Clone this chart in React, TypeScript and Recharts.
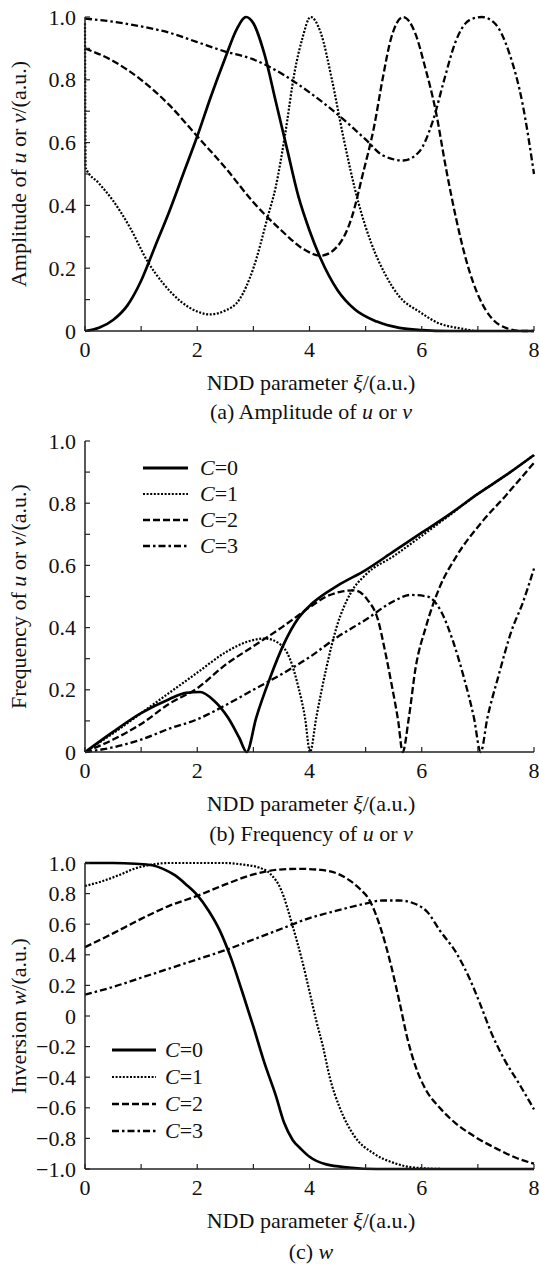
import React from 'react';
import { Legend, Line, LineChart, XAxis, YAxis } from 'recharts';

type Pt = [number, number];

const font = "'Liberation Serif', 'Times New Roman', serif";

// x axis (NDD parameter)
const xTicks = [0, 1, 2, 3, 4, 5, 6, 7, 8];
const xTickLabels = ['0', '', '2', '', '4', '', '6', '', '8'];

// y axes
const unitTicks = [0, 0.1, 0.2, 0.3, 0.4, 0.5, 0.6, 0.7, 0.8, 0.9, 1];
const unitTickLabels = ['0', '', '0.2', '', '0.4', '', '0.6', '', '0.8', '', '1.0'];
const wTicks = [-1, -0.8, -0.6, -0.4, -0.2, 0, 0.2, 0.4, 0.6, 0.8, 1];
const wTickLabels = ['\u22121.0', '\u22120.8', '\u22120.6', '\u22120.4', '\u22120.2', '0', '0.2', '0.4', '0.6', '0.8', '1.0'];

// (a) amplitude of u or v
const ampC0: Pt[] = [
  [0, 0], [0.25, 0.01], [0.5, 0.035], [0.75, 0.08], [1, 0.16], [1.25, 0.27], [1.5, 0.38], [1.75, 0.5],
  [2, 0.62], [2.25, 0.75], [2.5, 0.87], [2.7, 0.96], [2.87, 1], [3, 0.98], [3.2, 0.88], [3.4, 0.73],
  [3.6, 0.58], [3.8, 0.43], [4, 0.32], [4.2, 0.23], [4.5, 0.13], [4.8, 0.07], [5.2, 0.03], [5.6, 0.01],
  [6, 0.003], [6.5, 0], [8, 0],
];
const ampC1: Pt[] = [
  [0, 0.98], [0.01, 0.52], [0.25, 0.47], [0.5, 0.415], [0.8, 0.33], [1.12, 0.22], [1.4, 0.15], [1.7, 0.095],
  [2, 0.062], [2.22, 0.053], [2.5, 0.065], [2.75, 0.1], [3, 0.2], [3.25, 0.36], [3.4, 0.46], [3.56, 0.62],
  [3.74, 0.83], [3.87, 0.93], [4.02, 1], [4.2, 0.95], [4.4, 0.8], [4.6, 0.62], [4.87, 0.41], [5.1, 0.28],
  [5.35, 0.18], [5.6, 0.11], [5.97, 0.06], [6.3, 0.025], [6.7, 0.008], [7, 0], [8, 0],
];
const ampC2: Pt[] = [
  [0, 0.9], [0.5, 0.86], [1, 0.8], [1.5, 0.72], [2, 0.62], [2.5, 0.52], [3, 0.41], [3.5, 0.32],
  [3.9, 0.26], [4.2, 0.24], [4.5, 0.27], [4.75, 0.36], [4.95, 0.5], [5.15, 0.65], [5.3, 0.8], [5.45, 0.93],
  [5.67, 1], [5.88, 0.95], [6.06, 0.84], [6.25, 0.7], [6.43, 0.52], [6.61, 0.36], [6.8, 0.22], [7.04, 0.1],
  [7.25, 0.04], [7.5, 0.01], [7.8, 0], [8, 0],
];
const ampC3: Pt[] = [
  [0, 0.995], [0.5, 0.985], [1, 0.97], [1.5, 0.95], [2, 0.92], [2.5, 0.89], [3, 0.865], [3.5, 0.82],
  [4, 0.76], [4.5, 0.69], [5, 0.61], [5.3, 0.56], [5.67, 0.543], [5.95, 0.57], [6.2, 0.67], [6.4, 0.8],
  [6.6, 0.92], [6.85, 0.99], [7.07, 1], [7.3, 0.98], [7.55, 0.89], [7.8, 0.72], [8, 0.5],
];

// (b) frequency of u or v
const freqC0: Pt[] = [
  [0, 0], [0.5, 0.065], [1, 0.125], [1.5, 0.17], [1.8, 0.19], [2.05, 0.193], [2.3, 0.165], [2.55, 0.11],
  [2.75, 0.045], [2.88, 0], [3.05, 0.11], [3.3, 0.24], [3.55, 0.35], [3.8, 0.43], [4.05, 0.478], [4.5, 0.535],
  [5, 0.585], [5.5, 0.645], [6, 0.705], [6.5, 0.765], [7, 0.83], [7.5, 0.89], [8, 0.955],
];
const freqC1: Pt[] = [
  [0, 0], [0.5, 0.06], [1, 0.125], [1.5, 0.19], [2, 0.255], [2.5, 0.32], [2.9, 0.355], [3.2, 0.365],
  [3.45, 0.35], [3.65, 0.3], [3.8, 0.21], [3.92, 0.11], [4.01, 0], [4.12, 0.11], [4.3, 0.27], [4.48, 0.4],
  [4.73, 0.51], [5, 0.57], [5.5, 0.63], [6, 0.695], [6.5, 0.762], [7, 0.83], [7.5, 0.89], [8, 0.955],
];
const freqC2: Pt[] = [
  [0, 0], [0.5, 0.04], [1, 0.09], [1.5, 0.155], [2, 0.205], [2.5, 0.28], [3, 0.34], [3.5, 0.4],
  [4, 0.465], [4.3, 0.5], [4.55, 0.515], [4.8, 0.52], [5.03, 0.49], [5.22, 0.425], [5.34, 0.33], [5.46, 0.22],
  [5.58, 0.1], [5.66, 0], [5.77, 0.11], [5.89, 0.27], [6.07, 0.4], [6.32, 0.53], [6.62, 0.63], [7.05, 0.735],
  [7.5, 0.825], [8, 0.93],
];
const freqC3: Pt[] = [
  [0, 0], [0.5, 0.015], [1, 0.04], [1.5, 0.075], [2, 0.105], [2.5, 0.15], [3, 0.2], [3.5, 0.25],
  [4, 0.305], [4.5, 0.37], [5, 0.425], [5.5, 0.485], [5.8, 0.505], [6.1, 0.5], [6.35, 0.45], [6.55, 0.36],
  [6.75, 0.24], [6.93, 0.11], [7.05, 0], [7.17, 0.11], [7.36, 0.24], [7.6, 0.39], [7.8, 0.48], [8, 0.59],
];

// (c) inversion w
const invC0: Pt[] = [
  [0, 1], [0.5, 1], [0.9, 0.995], [1.2, 0.985], [1.4, 0.96], [1.6, 0.92], [1.8, 0.86], [2, 0.79],
  [2.2, 0.69], [2.4, 0.56], [2.6, 0.38], [2.8, 0.16], [3, -0.07], [3.2, -0.31], [3.4, -0.52], [3.55, -0.7],
  [3.7, -0.81], [3.85, -0.87], [4, -0.92], [4.3, -0.97], [4.7, -0.99], [5.2, -1], [8, -1],
];
const invC1: Pt[] = [
  [0, 0.85], [0.3, 0.88], [0.6, 0.92], [0.9, 0.965], [1.2, 0.99], [1.5, 1], [2.5, 1], [2.8, 0.99],
  [3.1, 0.97], [3.3, 0.93], [3.5, 0.82], [3.69, 0.6], [3.87, 0.36], [4, 0.16], [4.12, -0.03], [4.24, -0.2],
  [4.36, -0.4], [4.54, -0.6], [4.79, -0.78], [5.15, -0.9], [5.5, -0.96], [5.85, -0.99], [6.4, -1], [8, -1],
];
const invC2: Pt[] = [
  [0, 0.45], [0.5, 0.54], [1, 0.635], [1.5, 0.72], [2, 0.785], [2.5, 0.86], [3, 0.925], [3.4, 0.955],
  [3.8, 0.962], [4.2, 0.955], [4.5, 0.93], [4.7, 0.89], [4.9, 0.83], [5.07, 0.756], [5.28, 0.56], [5.46, 0.32],
  [5.61, 0.08], [5.74, -0.14], [5.89, -0.33], [6.07, -0.48], [6.32, -0.6], [6.6, -0.7], [6.95, -0.79],
  [7.35, -0.87], [7.7, -0.93], [8, -0.965],
];
const invC3: Pt[] = [
  [0, 0.14], [0.5, 0.19], [1, 0.25], [1.5, 0.31], [2, 0.37], [2.5, 0.43], [3, 0.5], [3.5, 0.57],
  [4, 0.64], [4.5, 0.69], [5, 0.735], [5.3, 0.755], [5.6, 0.755], [5.9, 0.73], [6.1, 0.68], [6.32, 0.56],
  [6.62, 0.41], [6.87, 0.23], [7.06, 0.06], [7.24, -0.11], [7.48, -0.29], [7.73, -0.44], [8, -0.61],
];

const seriesNames = ['0', '1', '2', '3'];
const lineStyles = [
  { width: 2.7, dash: undefined as string | undefined },
  { width: 2.2, dash: '2 1.6' },
  { width: 2.3, dash: '7 3' },
  { width: 2.3, dash: '7 3 2.5 3' },
];

const toRows = (pts: Pt[]) => pts.map(([x, y]) => ({ x, y }));

const txt = { fontFamily: font, fontSize: 22, fill: '#111' };
const axisColor = '#222';

const bottomTick = (props: any) => {
  const { x, y, index } = props;
  return (
    <g>
      <line x1={x} y1={y} x2={x} y2={y - 5} stroke={axisColor} strokeWidth={1.2} />
      <text x={x} y={y + 18} textAnchor="middle" dominantBaseline="central" {...txt}>
        {xTickLabels[index]}
      </text>
    </g>
  );
};

const topTick = (props: any) => {
  const { x, y } = props;
  return <line x1={x} y1={y} x2={x} y2={y + 5} stroke={axisColor} strokeWidth={1.2} />;
};

const leftTick = (labels: string[]) => (props: any) => {
  const { x, y, index } = props;
  return (
    <g>
      <line x1={x} y1={y} x2={x + 5} y2={y} stroke={axisColor} strokeWidth={1.2} />
      <text x={x - 9} y={y} textAnchor="end" dominantBaseline="central" {...txt}>
        {labels[index]}
      </text>
    </g>
  );
};

const rightTick = (props: any) => {
  const { x, y } = props;
  return <line x1={x} y1={y} x2={x - 5} y2={y} stroke={axisColor} strokeWidth={1.2} />;
};

const xTitle = (props: any) => {
  const vb = props.viewBox;
  return (
    <text x={311} y={vb.y + 51} textAnchor="middle" dominantBaseline="central" {...txt}>
      NDD parameter <tspan fontStyle="italic">ξ</tspan>/(a.u.)
    </text>
  );
};

const yTitle = (content: React.ReactNode) => (props: any) => {
  const vb = props.viewBox;
  const cy = vb.y + vb.height / 2;
  return (
    <text
      x={18}
      y={cy}
      transform={`rotate(-90, 18, ${cy})`}
      textAnchor="middle"
      dominantBaseline="central"
      {...txt}
    >
      {content}
    </text>
  );
};

type LegendCfg = { left: number; top: number; rowH: number; lineW: number; gap: number };

const LegendBox = ({ cfg }: { cfg: LegendCfg }) => (
  <div style={{ fontFamily: font, fontSize: 22, color: '#111' }}>
    {seriesNames.map((n, i) => (
      <div key={n} style={{ display: 'flex', alignItems: 'center', height: cfg.rowH }}>
        <svg width={cfg.lineW} height={10} style={{ display: 'block' }}>
          <line
            x1={0}
            y1={5}
            x2={cfg.lineW}
            y2={5}
            stroke="#000"
            strokeWidth={lineStyles[i].width + (i === 0 ? 0.4 : 0)}
            strokeDasharray={lineStyles[i].dash}
          />
        </svg>
        <span style={{ marginLeft: cfg.gap, lineHeight: 1 }}>
          <i>C</i>=<span>{n}</span>
        </span>
      </div>
    ))}
  </div>
);

type PanelProps = {
  top: number;
  plotH: number;
  series: Pt[][];
  yDomain: [number, number];
  yTicks: number[];
  yLabels: string[];
  yTitleContent: React.ReactNode;
  legend?: LegendCfg;
};

const Panel = ({ top, plotH, series, yDomain, yTicks, yLabels, yTitleContent, legend }: PanelProps) => {
  const height = 17 + plotH + 29 + 45;
  return (
    <div style={{ position: 'absolute', left: 0, top, width: 539, height }}>
      <LineChart width={539} height={height} margin={{ top: 17, right: 5, bottom: 45, left: 0 }}>
        <XAxis
          xAxisId={0}
          type="number"
          dataKey="x"
          domain={[0, 8]}
          ticks={xTicks}
          interval={0}
          height={29}
          tickSize={0}
          tickMargin={0}
          tickLine={false}
          tick={bottomTick}
          axisLine={{ stroke: axisColor, strokeWidth: 1.5 }}
          label={{ content: xTitle }}
        />
        <XAxis
          xAxisId="top"
          orientation="top"
          type="number"
          dataKey="x"
          domain={[0, 8]}
          ticks={xTicks}
          interval={0}
          height={0}
          tickSize={0}
          tickMargin={0}
          tickLine={false}
          tick={topTick}
          axisLine={{ stroke: '#555', strokeWidth: 1.5 }}
        />
        <YAxis
          yAxisId={0}
          type="number"
          domain={yDomain}
          ticks={yTicks}
          interval={0}
          width={85}
          tickSize={0}
          tickMargin={0}
          tickLine={false}
          tick={leftTick(yLabels)}
          axisLine={{ stroke: axisColor, strokeWidth: 1.5 }}
          label={{ content: yTitle(yTitleContent) }}
        />
        <YAxis
          yAxisId="right"
          orientation="right"
          type="number"
          domain={yDomain}
          ticks={yTicks}
          interval={0}
          width={0}
          tickSize={0}
          tickMargin={0}
          tickLine={false}
          tick={rightTick}
          axisLine={{ stroke: axisColor, strokeWidth: 1.5 }}
        />
        {legend && (
          <Legend
            layout="horizontal"
            align="center"
            verticalAlign="middle"
            content={() => <LegendBox cfg={legend} />}
            wrapperStyle={{ left: legend.left, top: legend.top, width: 130, height: legend.rowH * 4 }}
          />
        )}
        {series.map((pts, i) => (
          <Line
            key={i}
            xAxisId={0}
            yAxisId={0}
            data={toRows(pts)}
            dataKey="y"
            name={`C=${seriesNames[i]}`}
            type="monotone"
            stroke="#000"
            strokeWidth={lineStyles[i].width}
            strokeDasharray={lineStyles[i].dash}
            dot={false}
            activeDot={false}
            isAnimationActive={false}
          />
        ))}
      </LineChart>
    </div>
  );
};

const Caption = ({ y, children }: { y: number; children: React.ReactNode }) => (
  <div
    style={{
      position: 'absolute',
      left: 111,
      width: 400,
      top: y - 12,
      height: 24,
      lineHeight: '24px',
      textAlign: 'center',
      fontFamily: font,
      fontSize: 22,
      color: '#111',
    }}
  >
    {children}
  </div>
);

export default function App() {
  return (
    <div style={{ position: 'absolute', left: 0, top: 0, width: 539, height: 1264, background: '#fff' }}>
      <Panel
        top={0}
        plotH={314}
        series={[ampC0, ampC1, ampC2, ampC3]}
        yDomain={[0, 1]}
        yTicks={unitTicks}
        yLabels={unitTickLabels}
        yTitleContent={
          <>
            Amplitude of <tspan fontStyle="italic">u</tspan> or <tspan fontStyle="italic">v</tspan>/(a.u.)
          </>
        }
      />
      <Caption y={412}>
        (a) Amplitude of <i>u</i> or <i>v</i>
      </Caption>
      <Panel
        top={424}
        plotH={311}
        series={[freqC0, freqC1, freqC2, freqC3]}
        yDomain={[0, 1]}
        yTicks={unitTicks}
        yLabels={unitTickLabels}
        yTitleContent={
          <>
            Frequency of <tspan fontStyle="italic">u</tspan> or <tspan fontStyle="italic">v</tspan>/(a.u.)
          </>
        }
        legend={{ left: 143, top: 31, rowH: 26, lineW: 45, gap: 12 }}
      />
      <Caption y={834}>
        (b) Frequency of <i>u</i> or <i>v</i>
      </Caption>
      <Panel
        top={846}
        plotH={306}
        series={[invC0, invC1, invC2, invC3]}
        yDomain={[-1, 1]}
        yTicks={wTicks}
        yLabels={wTickLabels}
        yTitleContent={
          <>
            Inversion <tspan fontStyle="italic">w</tspan>/(a.u.)
          </>
        }
        legend={{ left: 112, top: 190, rowH: 27, lineW: 44, gap: 9 }}
      />
      <Caption y={1252}>
        (c) <i>w</i>
      </Caption>
    </div>
  );
}
